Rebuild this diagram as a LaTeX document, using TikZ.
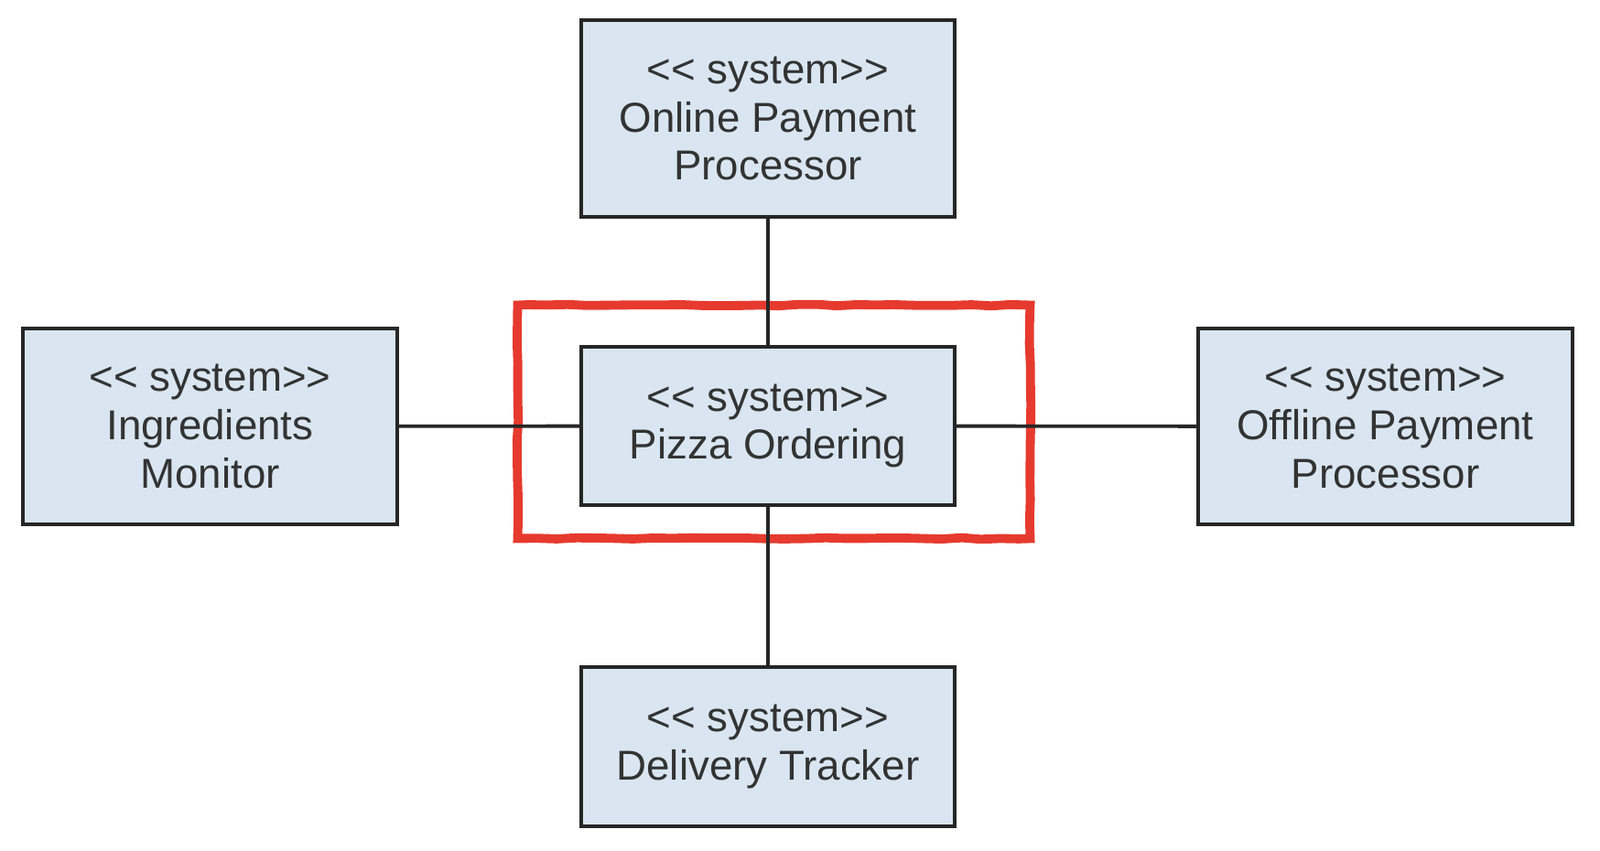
\documentclass[tikz,border=0pt]{standalone}
\usepackage{fontspec}
\newfontfamily\sysfont{Liberation Sans}
\usetikzlibrary{decorations.pathmorphing}
\definecolor{boxfill}{HTML}{D9E6F1}
\definecolor{boxline}{HTML}{262626}
\definecolor{textgray}{HTML}{333333}
\definecolor{markred}{HTML}{E63A2E}
\begin{document}
\begin{tikzpicture}[
    system/.style={rectangle,draw=boxline,fill=boxfill,line width=1.1pt,
      text=textgray,align=center,inner sep=0pt,
      font=\sysfont\fontsize{13}{15}\selectfont},
    link/.style={draw=boxline,line width=1.1pt},
    focusmark/.style={rectangle,draw=markred,line width=2.8pt,
      decorate,decoration={random steps,segment length=6pt,amplitude=0.25pt}}]
  \useasboundingbox (0,0) rectangle (17.48,9.30);
  % Highlight round the main system
  \node[focusmark,minimum width=5.6cm,minimum height=2.55cm] (focus) at (8.455,4.69) {};
  % Systems
  \node[system,minimum width=4.08cm,minimum height=2.15cm] (online) at (8.39,8.005) {<< system>>\\Online Payment\\Processor};
  \node[system,minimum width=4.08cm,minimum height=1.73cm] (pizza) at (8.39,4.645) {<< system>>\\Pizza Ordering};
  \node[system,minimum width=4.09cm,minimum height=2.14cm] (ingred) at (2.295,4.64) {<< system>>\\Ingredients\\Monitor};
  \node[system,minimum width=4.09cm,minimum height=2.14cm] (offline) at (15.135,4.64) {<< system>>\\Offline Payment\\Processor};
  \node[system,minimum width=4.08cm,minimum height=1.74cm] (delivery) at (8.39,1.14) {<< system>>\\Delivery Tracker};
  % Links
  \draw[link] (pizza) -- (online);
  \draw[link] (pizza) -- (ingred);
  \draw[link] (pizza) -- (offline);
  \draw[link] (pizza) -- (delivery);
\end{tikzpicture}
\end{document}
